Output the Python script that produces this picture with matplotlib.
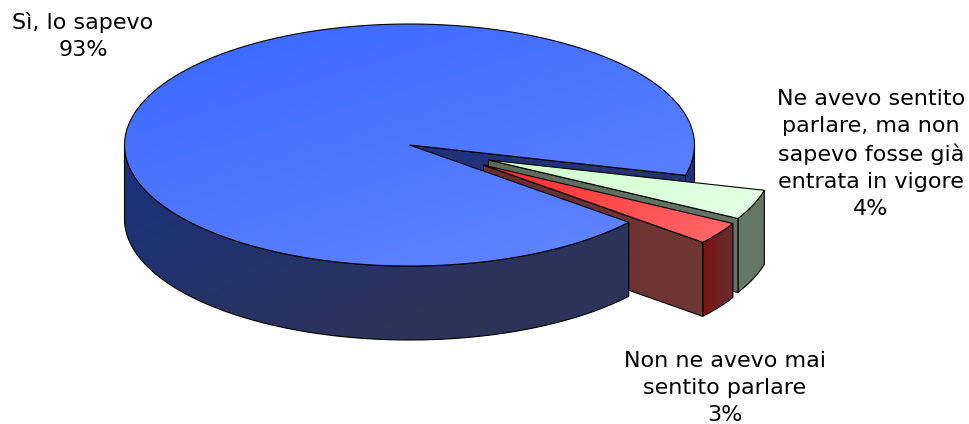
import numpy as np
import matplotlib
matplotlib.use('Agg')
import matplotlib.pyplot as plt
from matplotlib.patches import Polygon

labels = ['Sì, lo sapevo', 'Ne avevo sentito\nparlare, ma non\nsapevo fosse già\nentrata in vigore', 'Non ne avevo mai\nsentito parlare']
values = [93, 4, 3]

# pie geometry in pixels
cx, cy = 409.5, 145
rx, ry = 285, 121
depth = 74
first_angle = 14.5  # where the blue slice's dark edge sits, degrees below horizontal
pull_x = [0, 0.298, 0.314]  # how far each slice is pulled out of the pie
pull_y = [0, 0.335, 0.294]

fig = plt.figure(figsize=(9.7, 4.24), dpi=100)
ax = fig.add_axes([0, 0, 1, 1])


def arc(x0, y0, a1, a2):
    t = np.radians(np.linspace(a1, a2, 160))
    return np.column_stack([x0 + rx * np.cos(t), y0 + ry * np.sin(t)])


def shade(pts, c1, c2, angle, z, stop=1.0):
    # polygon filled with a linear gradient, black outline on top
    poly = Polygon(pts, closed=True, fc='none', ec='none', zorder=z)
    ax.add_patch(poly)
    x0, x1 = pts[:, 0].min(), pts[:, 0].max()
    y0, y1 = pts[:, 1].min(), pts[:, 1].max()
    xx, yy = np.meshgrid(np.linspace(0, 1, 200), np.linspace(0, 1, 200))
    a = np.radians(angle)
    g = xx * np.cos(a) + yy * np.sin(a)
    g = (g - g.min()) / (g.max() - g.min())
    g = np.clip(g / stop, 0, 1)
    c1, c2 = np.array(c1) / 255, np.array(c2) / 255
    img = c1 + (c2 - c1) * g[..., None]
    im = ax.imshow(img, extent=[x0, x1, y1, y0], aspect='auto', zorder=z, interpolation='bilinear')
    im.set_clip_path(poly)
    ax.add_patch(Polygon(pts, closed=True, fc='none', ec='black', lw=0.8, zorder=z))


def side(p0, a1, a2):
    top = arc(p0[0], p0[1], a1, a2)
    return np.vstack([top, (top + [0, depth])[::-1]])


def radial(p0, a):
    edge = arc(p0[0], p0[1], a, a)[0]
    return np.array([p0, edge, edge + [0, depth], np.array(p0) + [0, depth]])


# slice angles from the values
sweep = np.array(values) / sum(values) * 360
green_a = first_angle, first_angle + sweep[1]
red_a = green_a[1], green_a[1] + sweep[2]
blue_a = red_a[1], first_angle + 360


def apex(i, a):
    mid = np.radians((a[0] + a[1]) / 2)
    return np.array([cx + pull_x[i] * rx * np.cos(mid), cy + pull_y[i] * ry * np.sin(mid)])


green_p = apex(1, green_a)
red_p = apex(2, red_a)
centre = np.array([cx, cy], dtype=float)

# blue wall behind the gap
shade(side(centre, 0, first_angle), (30, 50, 125), (30, 50, 125), 0, 1)
shade(radial(centre, first_angle), (30, 50, 125), (38, 52, 110), 0, 2)

# green slice
shade(side(green_p, *green_a), (100, 122, 100), (100, 118, 100), 0, 3)
shade(radial(green_p, green_a[1]), (90, 110, 90), (100, 118, 100), 0, 4)
shade(np.vstack([green_p, arc(green_p[0], green_p[1], *green_a)]), (205, 255, 205), (230, 255, 230), 20, 5)

# red slice
shade(side(red_p, *red_a), (100, 50, 50), (125, 18, 18), 180, 6)
shade(radial(red_p, red_a[1]), (105, 45, 45), (112, 55, 55), 0, 7)
shade(np.vstack([red_p, arc(red_p[0], red_p[1], *red_a)]), (255, 40, 40), (255, 108, 108), 20, 8)

# blue slice, front wall then top
shade(side(centre, blue_a[0], 180), (24, 50, 128), (44, 52, 90), 40, 9, stop=0.7)
shade(np.vstack([centre, arc(cx, cy, *blue_a)]), (56, 102, 255), (100, 135, 255), 55, 10)

# labels
font = dict(fontsize=16, color='black', ha='center', va='center', linespacing=1.42, family='DejaVu Sans', zorder=20)
ax.text(83, 36, labels[0] + '\n' + str(values[0]) + '%', **font)
ax.text(871, 154, labels[1] + '\n' + str(values[1]) + '%', **font)
ax.text(725, 388, labels[2] + '\n' + str(values[2]) + '%', **font)

ax.set_xlim(0, 970)
ax.set_ylim(424, 0)
ax.axis('off')
fig.savefig('out.png', dpi=100)
